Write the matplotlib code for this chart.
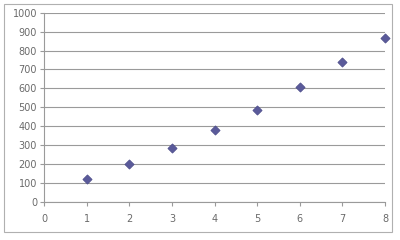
import matplotlib
matplotlib.use("Agg")
import matplotlib.pyplot as plt
from matplotlib.patches import Rectangle

x_vals = [1, 2, 3, 4, 5, 6, 7, 8]
y_vals = [121, 200, 284, 382, 486, 607, 740, 867]
x_ticks = list(range(0, 9))
y_ticks = list(range(0, 1001, 100))

fig = plt.figure(figsize=(4, 2.4), dpi=100)
fig.patches.append(Rectangle((4 / 400, 8 / 240), 388 / 400, 228 / 240,
                             transform=fig.transFigure, fill=False,
                             edgecolor="#b0b0b0", linewidth=0.8))
ax = fig.add_axes([44 / 400, 38 / 240, 341 / 400, 189.3 / 240])

ax.scatter(x_vals, y_vals, marker="D", s=22, color="#5a5a9a",
           edgecolors="#4a4a88", linewidths=0.5, zorder=3, clip_on=False)

ax.set_xlim(0, 8)
ax.set_ylim(0, 1000)
ax.set_xticks(x_ticks)
ax.set_yticks(y_ticks)
ax.yaxis.grid(True, color="#9a9a9a", linewidth=0.8)
ax.set_axisbelow(True)

for s in ["top", "right"]:
    ax.spines[s].set_visible(False)
for s in ["left", "bottom"]:
    ax.spines[s].set_color("#9a9a9a")
    ax.spines[s].set_linewidth(0.8)

ax.tick_params(axis="both", colors="#9a9a9a", labelcolor="#6a6a6a",
               labelsize=7, length=3, width=0.8)
ax.tick_params(axis="x", pad=6)
ax.tick_params(axis="y", pad=2)

fig.savefig("out.png", dpi=100)
